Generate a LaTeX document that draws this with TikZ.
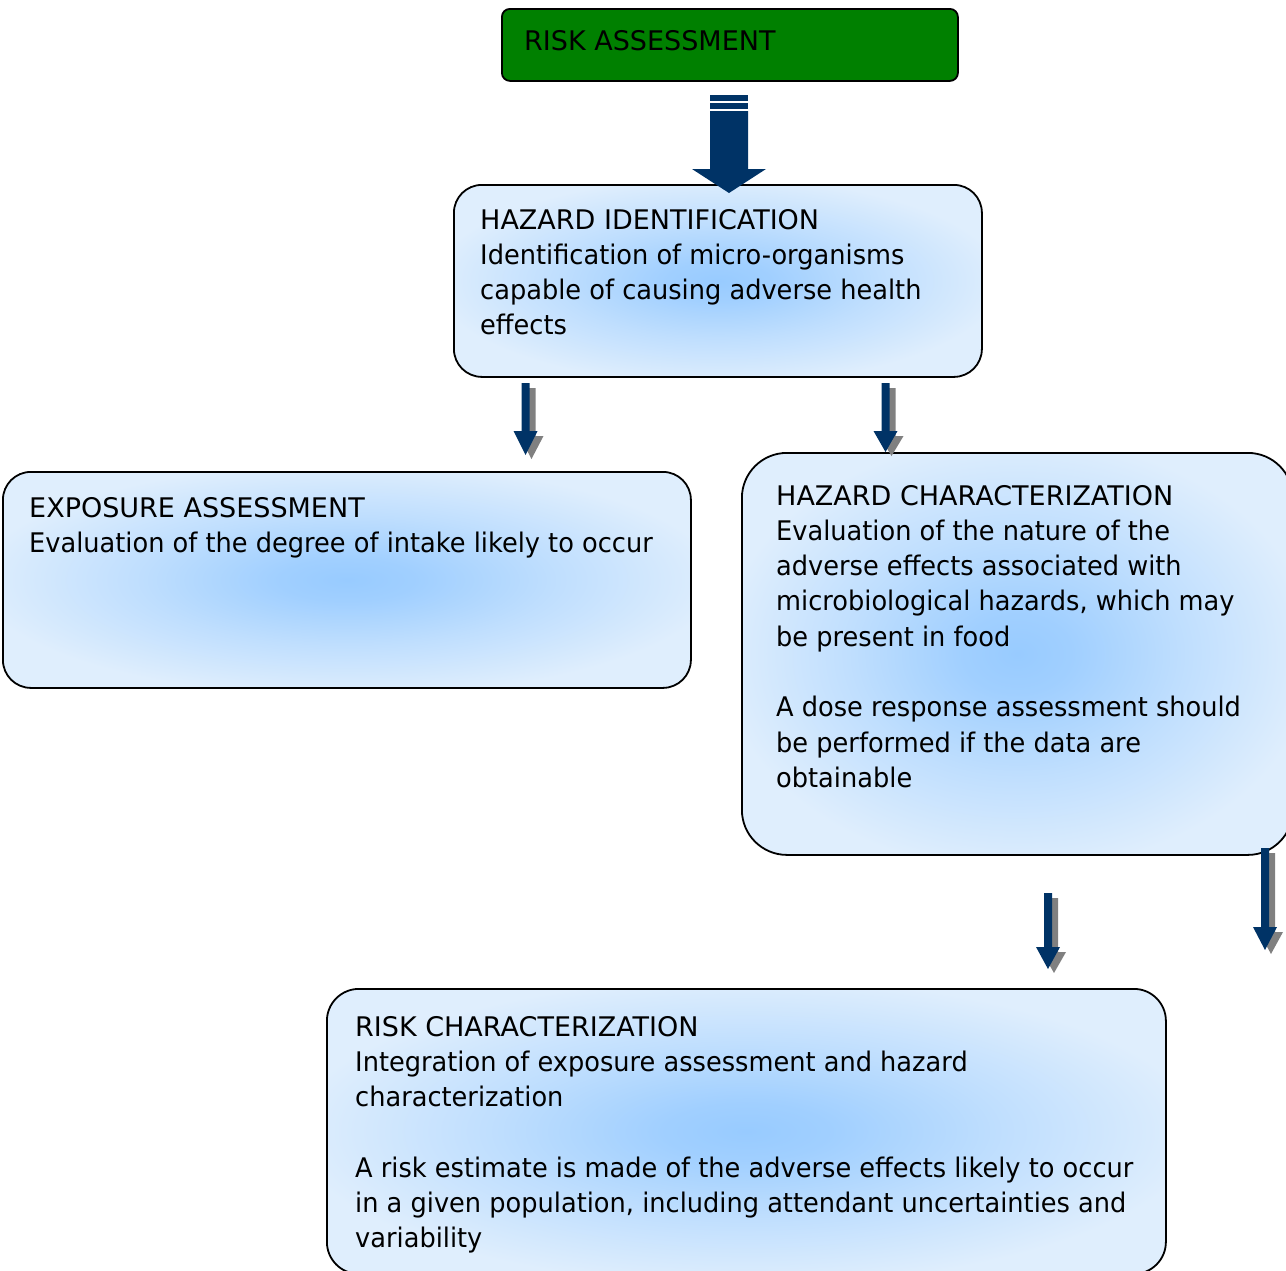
\documentclass[tikz,border=0pt]{standalone}
\usepackage{fontspec}
\setmainfont[FakeStretch=0.95]{DejaVu Sans}
\newfontfamily\headfont{DejaVu Sans}
\definecolor{glow}{RGB}{152,203,255}
\definecolor{paper}{RGB}{223,238,253}
\definecolor{arrowblue}{RGB}{0,51,102}
\definecolor{leafgreen}{RGB}{0,128,0}
\definecolor{shadowgray}{RGB}{128,128,128}
\pgfdeclareradialshading{boxglow}{\pgfpoint{0bp}{0bp}}{color(0bp)=(glow); color(5bp)=(glow!88!paper); color(15bp)=(glow!45!paper); color(27bp)=(paper); color(50bp)=(paper)}
\tikzset{
  panel/.style={draw=black, line width=1.8pt, shading=boxglow, inner sep=0pt, anchor=north west},
  titlebox/.style={draw=black, line width=1.8pt, fill=leafgreen, rounded corners=8pt, inner sep=0pt, anchor=north west},
  body/.style={anchor=base west, inner sep=0pt, text=black, font=\fontsize{27}{35.3}\selectfont},
  arrowfill/.style={fill=arrowblue},
  arrowshade/.style={fill=shadowgray}
}
% small block arrow pointing down: centre x, top, head top, tip
\newcommand\blockarrow[4]{%
  \fill[arrowshade] ({#1-4+6},{#2+5}) -- ({#1+4+6},{#2+5}) -- ({#1+4+6},{#3+5}) -- ({#1+12+6},{#3+5})
     -- ({#1+6},{#4+4}) -- ({#1-12+6},{#3+5}) -- ({#1-4+6},{#3+5}) -- cycle;
  \fill[arrowfill] ({#1-4},{#2}) -- ({#1+4},{#2}) -- ({#1+4},{#3}) -- ({#1+12},{#3})
     -- ({#1},{#4}) -- ({#1-12},{#3}) -- ({#1-4},{#3}) -- cycle;
}
\begin{document}
\begin{tikzpicture}[x=1pt,y=-1pt]
\useasboundingbox (0,0) rectangle (1286,1270);
\clip (0,0) rectangle (1286,1270);

% title box
\node[titlebox, minimum width=456pt, minimum height=72pt] (risk) at (501,8) {};
\node[body] (risktext) at (524,50) {\headfont RISK ASSESSMENT};

% panels
\node[panel, rounded corners=28pt, minimum width=528pt, minimum height=192pt] (hazid) at (453,184) {};
\node[panel, rounded corners=28pt, minimum width=688pt, minimum height=216pt] (expo) at (2,471) {};
\node[panel, rounded corners=45pt, minimum width=551pt, minimum height=402pt] (hazchar) at (741,452) {};
\node[panel, rounded corners=32pt, minimum width=839pt, minimum height=285pt] (riskchar) at (326,988) {};

% main arrow with stripes
\fill[arrowfill] (710,95) rectangle (748,101);
\fill[arrowfill] (710,103) rectangle (748,109);
\fill[arrowfill] (710,111) -- (748,111) -- (748,169) -- (766,169) -- (729,193)
   -- (692,169) -- (710,169) -- cycle;

% texts
\node[body] (hazidtext) at (480,229) {\parbox[t]{520pt}{\raggedright
  {\headfont HAZARD IDENTIFICATION}\\
  Identification of micro-organisms\\
  capable of causing adverse health\\
  effects}};
\node[body] (expotext) at (29,517) {\parbox[t]{680pt}{\raggedright
  {\headfont EXPOSURE ASSESSMENT}\\
  Evaluation of the degree of intake likely to occur}};
\node[body] (hazchartext) at (776,505) {\parbox[t]{520pt}{\raggedright
  {\headfont HAZARD CHARACTERIZATION}\\
  Evaluation of the nature of the\\
  adverse effects associated with\\
  microbiological hazards, which may\\
  be present in food\\[35.3pt]
  A dose response assessment should\\
  be performed if the data are\\
  obtainable}};
\node[body] (riskchartext) at (355,1036) {\parbox[t]{820pt}{\raggedright
  {\headfont RISK CHARACTERIZATION}\\
  Integration of exposure assessment and hazard\\
  characterization\\[35.3pt]
  A risk estimate is made of the adverse effects likely to occur\\
  in a given population, including attendant uncertainties and\\
  variability}};

% small arrows
\blockarrow{525.5}{383}{431}{455}
\blockarrow{885.5}{383}{431}{452}
\blockarrow{1048}{893}{947}{969}
\blockarrow{1265}{848}{927}{950}
\end{tikzpicture}
\end{document}
